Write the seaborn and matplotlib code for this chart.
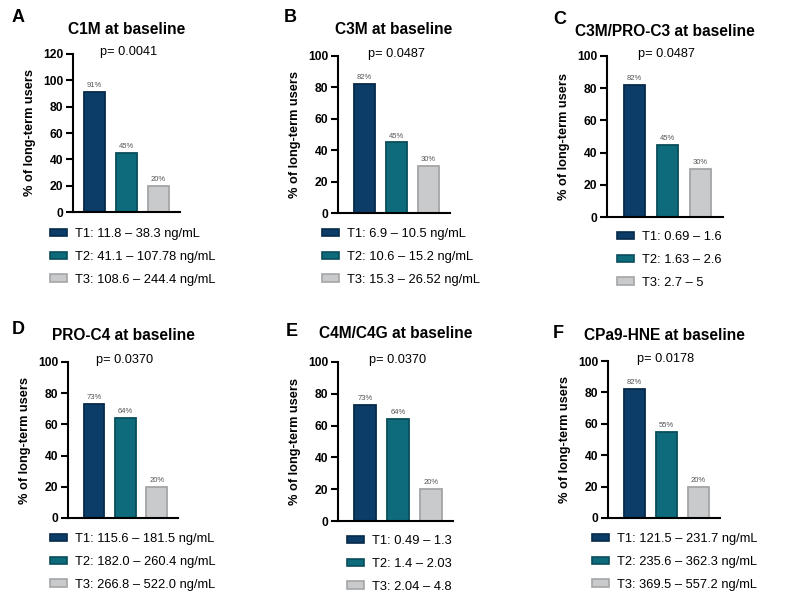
import numpy as np
import pandas as pd
import matplotlib.pyplot as plt
import seaborn as sns
from matplotlib.patches import Patch

# ---- données ----
markers = ["C1M", "C3M", "C3M/PRO-C3", "PRO-C4", "C4M/C4G", "CPa9-HNE"]
panel_letters = ["A", "B", "C", "D", "E", "F"]
p_values = ["0.0041", "0.0487", "0.0487", "0.0370", "0.0370", "0.0178"]
tiers = ["T1", "T2", "T3"]

c1m_pct = [91, 45, 20]
c3m_pct = [82, 45, 30]
c3m_proc3_pct = [82, 45, 30]
proc4_pct = [73, 64, 20]
c4m_c4g_pct = [73, 64, 20]
cpa9_hne_pct = [82, 55, 20]
pct_values = [c1m_pct, c3m_pct, c3m_proc3_pct, proc4_pct, c4m_c4g_pct, cpa9_hne_pct]

y_max = [120, 100, 100, 100, 100, 100]

c1m_ranges = ["11.8 – 38.3 ng/mL", "41.1 – 107.78 ng/mL", "108.6 – 244.4 ng/mL"]
c3m_ranges = ["6.9 – 10.5 ng/mL", "10.6 – 15.2 ng/mL", "15.3 – 26.52 ng/mL"]
c3m_proc3_ranges = ["0.69 – 1.6", "1.63 – 2.6", "2.7 – 5"]
proc4_ranges = ["115.6 – 181.5 ng/mL", "182.0 – 260.4 ng/mL", "266.8 – 522.0 ng/mL"]
c4m_c4g_ranges = ["0.49 – 1.3", "1.4 – 2.03", "2.04 – 4.8"]
cpa9_hne_ranges = ["121.5 – 231.7 ng/mL", "235.6 – 362.3 ng/mL", "369.5 – 557.2 ng/mL"]
tier_ranges = [c1m_ranges, c3m_ranges, c3m_proc3_ranges,
               proc4_ranges, c4m_c4g_ranges, cpa9_hne_ranges]

# ---- style ----
fill_colors = ["#0b3d68", "#0e6b7b", "#c9cacc"]
edge_colors = ["#072a4a", "#094e5a", "#a4a5a7"]

# mise en page en pixels (gauche, haut, droite, bas)
W, H = 793, 605
axes_boxes = [(73, 54, 180, 212), (338, 56, 450, 213), (607, 56, 723, 217),
              (68, 362, 178, 518), (338, 362, 453, 521), (608, 361, 720, 518)]
legend_anchors = [(50, 235), (322, 235), (617, 238), (50, 540), (347, 542), (592, 540)]
letter_pos = [(18, 18), (290, 18), (560, 20), (18, 330), (292, 332), (558, 333)]
title_y = [30, 30, 31, 335, 333, 335]

sns.set_style("ticks")
plt.rcParams['font.family'] = ['Liberation Sans', 'DejaVu Sans']
plt.rcParams.update({"text.color": "black", "axes.labelcolor": "black",
                     "ytick.color": "black", "xtick.color": "black"})

fig = plt.figure(figsize=(W / 100, H / 100), dpi=100)


def fx(x):
    return x / W


def fy(y):
    return 1 - y / H


for i in range(6):
    l, t, r, b = axes_boxes[i]
    ax = fig.add_axes([fx(l), fy(b), (r - l) / W, (b - t) / H])
    df = pd.DataFrame({"tier": tiers, "pct": pct_values[i]})
    sns.barplot(data=df, x="tier", y="pct", hue="tier", palette=fill_colors,
                width=0.66, ax=ax, legend=False, saturation=1)

    for patch, ec in zip(ax.patches, edge_colors):
        patch.set_edgecolor(ec)
        patch.set_linewidth(1.3)

    for cont, v in zip(ax.containers, pct_values[i]):
        ax.bar_label(cont, labels=[f"{v}%"], padding=2, fontsize=5.5, color="#555555")

    ax.set_xlim(-(0.68 if i == 0 else 0.83), 2.68)
    ax.set_ylim(0, y_max[i])
    ax.set_yticks(np.arange(0, y_max[i] + 1, 20))
    ax.set_xticks([])
    ax.set_xlabel("")
    ax.set_ylabel("% of long-term users", fontsize=9.2, fontweight="bold", labelpad=5)
    ax.tick_params(axis="y", length=5, width=1.5, labelsize=8.7, pad=2)
    for lab in ax.get_yticklabels():
        lab.set_fontweight("bold")
    sns.despine(ax=ax)
    for s in ["left", "bottom"]:
        ax.spines[s].set_linewidth(1.5)
        ax.spines[s].set_color("black")

    cx = (l + r) / 2
    fig.text(fx(cx), fy(title_y[i]), f"{markers[i]} at baseline", ha="center", va="center",
             fontsize=11.2, fontweight="bold")
    fig.text(fx(cx + 2), fy(t - 2), f"p= {p_values[i]}", ha="center", va="center", fontsize=9.2)
    lx, ly = letter_pos[i]
    fig.text(fx(lx), fy(ly), panel_letters[i], ha="center", va="center",
             fontsize=13, fontweight="bold")

    handles = [Patch(facecolor=fc, edgecolor=ec, linewidth=1.2,
                     label=f"{tiers[k]}: {tier_ranges[i][k]}")
               for k, (fc, ec) in enumerate(zip(fill_colors, edge_colors))]
    ax_x, ax_y = legend_anchors[i]
    fig.legend(handles=handles, loc="upper left",
               bbox_to_anchor=(fx(ax_x), fy(ax_y - 7)), bbox_transform=fig.transFigure,
               frameon=False, fontsize=9.3, handlelength=1.35, handleheight=0.55,
               handletextpad=0.6, labelspacing=0.85, borderpad=0, borderaxespad=0)

fig.savefig("out.png", dpi=100)
